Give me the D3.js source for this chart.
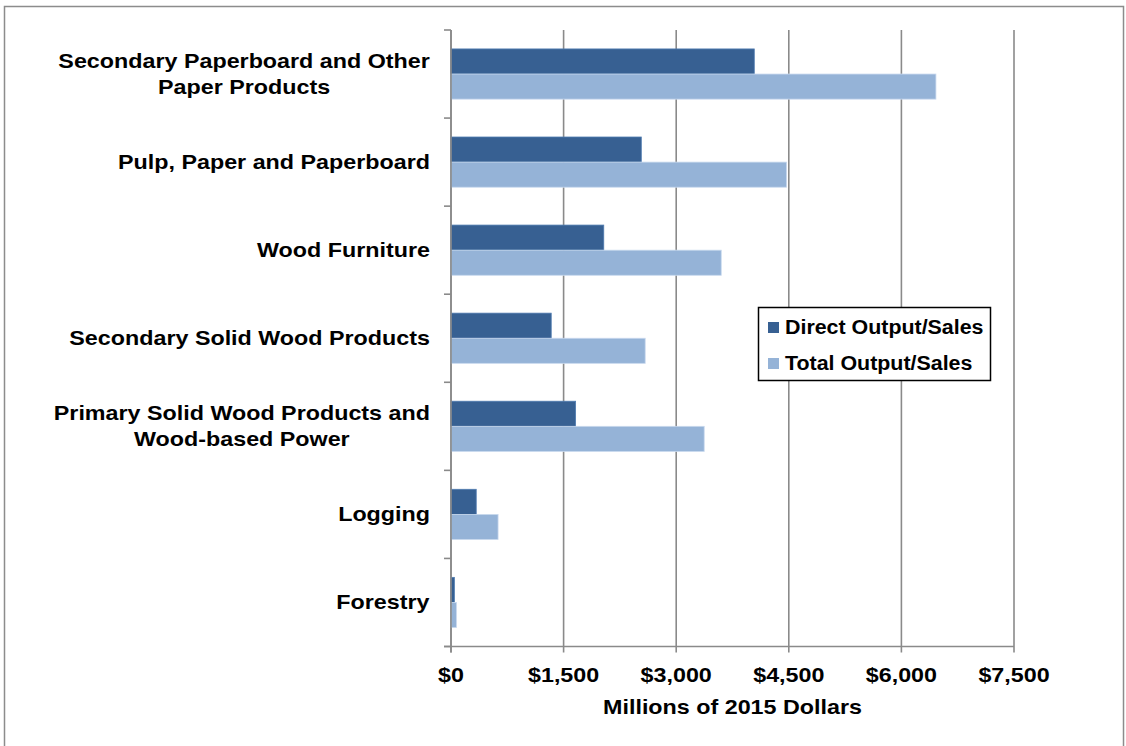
<!DOCTYPE html>
<html>
<head>
<meta charset="utf-8">
<script src="https://cdn.jsdelivr.net/npm/d3@7"></script>
<style>
  html, body { margin: 0; padding: 0; background: #fff; }
  svg { display: block; }
  text { font-family: "Liberation Sans", Arial, sans-serif; font-weight: bold; fill: #000; }
</style>
</head>
<body>
<svg id="chart" width="1126" height="746"></svg>
<script>
// Forest products sectors, top to bottom
const categories = [
  ["Secondary Paperboard and Other", "Paper Products"],
  ["Pulp, Paper and Paperboard"],
  ["Wood Furniture"],
  ["Secondary Solid Wood Products"],
  ["Primary Solid Wood Products and", "Wood-based Power"],
  ["Logging"],
  ["Forestry"]
];
const seriesNames = ["Direct Output/Sales", "Total Output/Sales"];
// Millions of 2015 dollars
const directOutput = [4040, 2535, 2035, 1335, 1660, 336, 45];
const totalOutput  = [6460, 4470, 3600, 2587, 3373, 627, 72];
const xTicks = [0, 1500, 3000, 4500, 6000, 7500];
const xTitle = "Millions of 2015 Dollars";

const colors = ["#376092", "#95b3d7"];
const stretch = 1.165;        // wide bold lettering
const svg = d3.select("#chart");

// outer chart frame
svg.append("rect")
  .attr("x", 4.5).attr("y", 6.5)
  .attr("width", 1119).attr("height", 760)
  .attr("fill", "none").attr("stroke", "#8c8c8c").attr("stroke-width", 1.5);

const plot = { left: 451, right: 1014, top: 30, bottom: 646.5 };

const x = d3.scaleLinear().domain([0, 7500]).range([plot.left, plot.right]);
const y = d3.scaleBand()
  .domain(d3.range(categories.length))
  .range([plot.top, plot.bottom])
  .paddingInner(0.43).paddingOuter(0.215);
const ySub = d3.scaleBand().domain([0, 1]).range([0, y.bandwidth()]);
const yEdge = d3.scaleBand().domain(d3.range(categories.length)).range([plot.top, plot.bottom]);

// vertical gridlines (also extend below the axis as tick marks)
svg.append("g").selectAll("line").data(xTicks).join("line")
  .attr("x1", d => x(d)).attr("x2", d => x(d))
  .attr("y1", plot.top).attr("y2", plot.bottom + 6)
  .attr("stroke", "#8a8a8a").attr("stroke-width", 1.6);

// bars
const rows = categories.map((c, i) => ({ i, vals: [directOutput[i], totalOutput[i]] }));
const g = svg.append("g");
rows.forEach(r => {
  r.vals.forEach((v, s) => {
    g.append("rect")
      .attr("x", x(0))
      .attr("y", y(r.i) + ySub(s))
      .attr("width", x(v) - x(0))
      .attr("height", ySub.bandwidth())
      .attr("fill", colors[s])
      .attr("stroke", s === 0 ? "#4f7bb0" : "#c9d9ee")
      .attr("stroke-width", 0.8);
  });
});

// left category axis line with ticks between categories
svg.append("line")
  .attr("x1", plot.left).attr("x2", plot.left)
  .attr("y1", plot.top).attr("y2", plot.bottom + 6)
  .attr("stroke", "#8a8a8a").attr("stroke-width", 1.6);
const edges = d3.range(categories.length + 1).map(i => i < categories.length ? yEdge(i) : plot.bottom);
svg.append("g").selectAll("line").data(edges).join("line")
  .attr("x1", plot.left - 7).attr("x2", plot.left)
  .attr("y1", d => d).attr("y2", d => d)
  .attr("stroke", "#8a8a8a").attr("stroke-width", 1.6);

// bottom axis line
svg.append("line")
  .attr("x1", plot.left - 7).attr("x2", plot.right)
  .attr("y1", plot.bottom).attr("y2", plot.bottom)
  .attr("stroke", "#8a8a8a").attr("stroke-width", 1.6);

// x tick labels
const fmt = d3.format(",");
svg.append("g").selectAll("text").data(xTicks).join("text")
  .attr("transform", d => `translate(${x(d)},682) scale(${stretch},1)`)
  .attr("text-anchor", "middle")
  .style("font-size", "20px")
  .text(d => "$" + fmt(d));

// x axis title
svg.append("text")
  .attr("transform", `translate(${(plot.left + plot.right) / 2},714) scale(${stretch},1)`)
  .attr("text-anchor", "middle")
  .style("font-size", "20px")
  .text(xTitle);

// category labels: centered block, right edge at the axis gutter
const labelG = svg.append("g");
categories.forEach((lines, i) => {
  const cy = yEdge(i) + yEdge.bandwidth() / 2;
  const lh = 26;
  const t = labelG.append("text")
    .attr("text-anchor", "middle")
    .style("font-size", "20px");
  lines.forEach((ln, k) => {
    t.append("tspan")
      .attr("x", 0)
      .attr("y", cy + 6.5 + (k - (lines.length - 1) / 2) * lh)
      .text(ln);
  });
  // align block so its widest line ends at x = 430
  const w = t.node().getBBox().width * stretch;
  t.attr("transform", `translate(${430 - w / 2},0) scale(${stretch},1)`);
});

// legend
const lg = svg.append("g");
lg.append("rect")
  .attr("x", 758.5).attr("y", 307.5).attr("width", 232).attr("height", 73)
  .attr("fill", "#fff").attr("stroke", "#000").attr("stroke-width", 1.5);
seriesNames.forEach((name, s) => {
  const cy = 327.5 + s * 36;
  lg.append("rect")
    .attr("x", 768).attr("y", cy - 5.5).attr("width", 11).attr("height", 11)
    .attr("fill", colors[s]);
  lg.append("text")
    .attr("transform", `translate(785,${cy + 6.5}) scale(1.07,1)`)
    .style("font-size", "20px")
    .text(name);
});
</script>
</body>
</html>
